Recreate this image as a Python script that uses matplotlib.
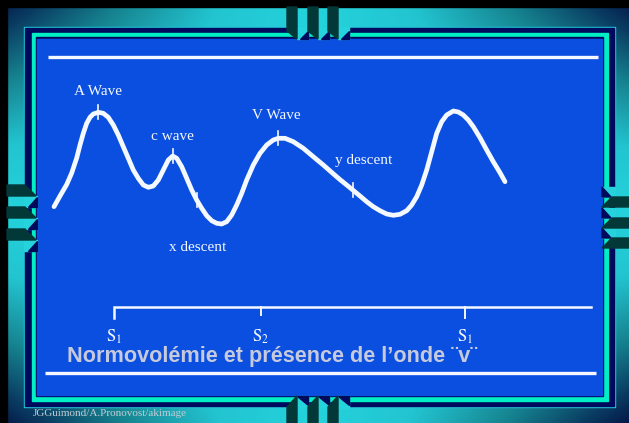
import numpy as np
import matplotlib
matplotlib.use("Agg")
import matplotlib.pyplot as plt
from matplotlib.patches import Rectangle, Polygon
from matplotlib.colors import LinearSegmentedColormap

plt.rcParams["mathtext.fontset"] = "stix"

W, H = 629, 423

# jugular venous pulse, traced in slide pixels (y grows downward)
wave_x = [54.0, 60.0, 66.7, 71.7, 76.7, 80.0, 83.3, 86.7, 90.0, 93.3, 98.3,
          103.3, 108.3, 113.3, 118.3, 123.3, 128.3, 133.3, 138.3, 143.3,
          148.3, 153.3, 158.3, 163.3, 168.3, 172.7, 176.7, 181.7, 186.7,
          191.7, 196.7, 201.7, 206.7, 211.7, 216.7, 221.7, 226.7, 231.7,
          236.7, 241.7, 246.7, 253.3, 260.0, 266.7, 273.3, 278.3, 285.0,
          293.3, 303.3, 313.3, 323.3, 333.3, 340.0, 346.7, 353.3, 360.0,
          366.7, 373.3, 380.0, 386.7, 393.3, 400.0, 406.7, 411.7, 416.7,
          421.7, 426.7, 431.7, 436.7, 441.7, 446.7, 453.3, 458.3, 463.3,
          468.3, 473.3, 480.0, 486.7, 493.3, 500.0, 505.0]
wave_y = [206.7, 196.0, 184.5, 173.0, 158.0, 145.0, 133.3, 123.3, 117.3,
          114.0, 112.3, 113.3, 117.3, 125.0, 135.0, 146.7, 158.3, 170.0,
          178.3, 185.0, 187.3, 186.0, 180.0, 170.0, 160.0, 156.0, 158.3,
          166.7, 178.3, 190.0, 200.0, 208.3, 215.7, 220.7, 223.3, 224.0,
          221.7, 215.0, 205.0, 193.3, 180.0, 165.0, 153.3, 145.0, 140.0,
          138.3, 138.3, 141.7, 148.3, 156.7, 165.0, 173.8, 179.6, 185.0,
          190.4, 196.0, 201.7, 206.7, 210.7, 214.0, 215.3, 214.3, 210.7,
          205.0, 196.7, 185.0, 170.0, 151.7, 133.3, 121.7, 115.0, 111.0,
          112.0, 115.0, 120.0, 126.7, 137.7, 150.0, 161.7, 172.7, 181.7]

event_names = ["A Wave", "c wave", "x descent", "V Wave", "y descent"]
event_x = [98, 173, 197, 278, 353]
# label centre offsets from each event tick
event_offsets = [(0, -21), (-1, -20), (1, 47), (-2, -23), (11, -30)]

sound_names = [r"$\mathrm{S}_1$", r"$\mathrm{S}_2$", r"$\mathrm{S}_1$"]
sound_x = [114, 261, 465]
sound_tick = [11, 8, 11]
axis_end = 591

title = "Normovolémie et présence de l’onde ¨v¨"
credit = "JGGuimond/A.Pronovost/akimage"

NAVY = "#000a5c"
AQUA = "#00efc4"
CYAN_LINE = "#22c8d8"
BLUE = "#0b4fe0"
TAB = "#033838"
WHITE = "#f4f8ff"

fig = plt.figure(figsize=(W / 100, H / 100), dpi=100)
ax = fig.add_axes([0, 0, 1, 1])
ax.set_xlim(0, W)
ax.set_ylim(H, 0)
ax.axis("off")

# outer bevel: dark at the corners, cyan at the middle of each side
xx, yy = np.meshgrid(np.arange(W) + 0.5, np.arange(H) + 0.5)
u = np.abs(xx - W / 2) / (W / 2)
v = np.abs(yy - H / 2) / (H / 2)
shade = LinearSegmentedColormap.from_list(
    "bevel", [(0, "#24d3dc"), (0.3, "#22c4d0"), (0.6, "#168490"),
              (0.85, "#0a3c62"), (1, "#041848")])
ax.imshow(u * v, cmap=shade, vmin=0, vmax=1, extent=(0, W, H, 0),
          interpolation="bilinear", zorder=0)
ax.add_patch(Rectangle((0, 0), W, 7, color="black", zorder=1))
ax.add_patch(Rectangle((0, 0), 7, H, color="black", zorder=1))

# nested frame
ax.add_patch(Rectangle((24, 27), 591, 380, color=CYAN_LINE, zorder=2))
ax.add_patch(Rectangle((25, 28), 589, 378, color=NAVY, zorder=2))
ax.add_patch(Rectangle((32, 33), 576, 368, color=AQUA, zorder=2))
ax.add_patch(Rectangle((36, 37), 567, 359, color=NAVY, zorder=2))
ax.add_patch(Rectangle((37, 39), 565, 356, color=BLUE, zorder=2))

# clip tabs on the four sides
for x0 in [287, 308, 328]:
    ax.add_patch(Polygon([(x0 + 10, 27), (x0 + 21, 27), (x0 + 21, 39),
                          (x0 + 10, 39)], color="#24d3dc", zorder=3))
    ax.add_patch(Polygon([(x0 + 13, 39), (x0 + 21, 39), (x0 + 21, 31)],
                         color=NAVY, zorder=3))
    ax.add_patch(Polygon([(x0, 7), (x0 + 10, 7), (x0 + 10, 39), (x0, 31)],
                         color=TAB, zorder=4))
    ax.add_patch(Polygon([(x0 + 10, 396), (x0 + 21, 396), (x0 + 21, 408),
                          (x0 + 10, 408)], color="#24d3dc", zorder=3))
    ax.add_patch(Polygon([(x0 + 10, 396), (x0 + 21, 396), (x0 + 21, 405)],
                         color=NAVY, zorder=3))
    ax.add_patch(Polygon([(x0, 423), (x0 + 10, 423), (x0 + 10, 396),
                          (x0, 407)], color=TAB, zorder=4))
for y0 in [185, 207, 229]:
    ax.add_patch(Polygon([(24, y0 + 11), (37, y0 + 11), (37, y0 + 22),
                          (24, y0 + 22)], color="#24d3dc", zorder=3))
    ax.add_patch(Polygon([(28, y0 + 22), (37, y0 + 22), (37, y0 + 12)],
                         color=NAVY, zorder=3))
    ax.add_patch(Polygon([(7, y0), (25, y0), (36, y0 + 11), (7, y0 + 11)],
                         color=TAB, zorder=4))
for y0 in [197, 218, 238]:
    ax.add_patch(Polygon([(602, y0 - 10), (615, y0 - 10), (615, y0),
                          (602, y0)], color="#24d3dc", zorder=3))
    ax.add_patch(Polygon([(602, y0 - 10), (611, y0), (602, y0)],
                         color=NAVY, zorder=3))
    ax.add_patch(Polygon([(602, y0 + 10), (612, y0), (W, y0), (W, y0 + 10)],
                         color=TAB, zorder=4))

# rules above and below the content
ax.plot([48, 598], [57.5, 57.5], color=WHITE, lw=2.4, solid_capstyle="butt",
        zorder=5)
ax.plot([45, 596], [373, 373], color=WHITE, lw=2.4, solid_capstyle="butt",
        zorder=5)

# pressure trace with event ticks
ax.plot(wave_x, wave_y, color=WHITE, lw=3.4, solid_capstyle="round",
        solid_joinstyle="round", zorder=6)
serif = ["Liberation Serif", "DejaVu Serif"]
for name, ex, (dx, dy) in zip(event_names, event_x, event_offsets):
    ey = np.interp(ex, wave_x, wave_y)
    ax.plot([ex, ex], [ey - 7, ey + 7], color=WHITE, lw=1.2, zorder=7)
    ax.text(ex + dx, ey + dy, name, color=WHITE, fontsize=11,
            family=serif, ha="center", va="center", zorder=7)

# heart sound time axis
ax.plot([sound_x[0], sound_x[0], axis_end], [318, 307.5, 307.5],
        color=WHITE, lw=1.8, solid_joinstyle="miter", zorder=6)
for name, sx, tl in zip(sound_names[1:], sound_x[1:], sound_tick[1:]):
    ax.plot([sx, sx], [307.5, 307.5 + tl], color=WHITE, lw=1.4, zorder=6)
for name, sx in zip(sound_names, sound_x):
    ax.text(sx, 337, name, color=WHITE, fontsize=12, ha="center",
            va="center", zorder=7)

ax.text(67, 362, title, color="#c6cadc", fontsize=15.6, fontweight="bold",
        family=["Liberation Sans", "DejaVu Sans"], ha="left", va="baseline",
        zorder=8)
ax.text(33, 416.5, credit, color="#c4ccd6", fontsize=8, family=serif,
        ha="left", va="baseline", zorder=8)

fig.savefig("out.png", dpi=100)
